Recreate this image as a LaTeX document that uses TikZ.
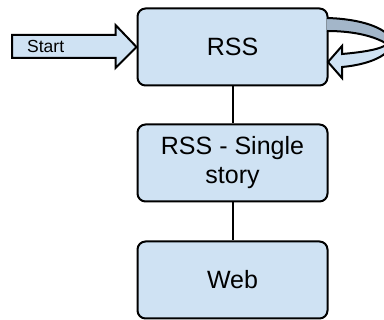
\documentclass[tikz,border=0pt]{standalone}
\usepackage{fontspec}
\setmainfont{Liberation Sans}
\usetikzlibrary{calc}
\begin{document}
\begin{tikzpicture}[x=1pt,y=-1pt,
  box/.style={draw=black,line width=2pt,rounded corners=8pt,fill=boxblue,
    minimum width=190pt,minimum height=77pt,inner sep=0pt,align=center,
    font=\fontsize{25}{30}\selectfont},
  link/.style={draw=black,line width=2pt},
  bigarrow/.style={draw=black,line width=2pt,line join=miter,fill=boxblue}]
\definecolor{boxblue}{HTML}{CFE2F3}
\definecolor{bandgray}{HTML}{A3B6C9}
\useasboundingbox (0,0) rectangle (384,320);
\clip (0,0) rectangle (384,320);
\node[box] (rss) at (232.5,47) {RSS};
\node[box] (single) at (232.5,163) {RSS - Single\\[-1pt]story};
\node[box] (web) at (232.5,280) {Web};
\draw[link] (rss.south) -- (single.north);
\draw[link] (single.south) -- (web.north);
% start arrow
\coordinate (tip) at (rss.west);
\draw[bigarrow] (tip) -- ++(-21,-22) -- ++(0,10) -- (12,35) -- (12,58) -- ($(tip)+(-21,11)$) -- ++(0,10) -- cycle;
\node[anchor=base west,inner sep=0pt,font=\fontsize{17.5}{20}\selectfont] (start) at (27,52.5) {Start};
% self loop
\fill[bandgray] (327,18) .. controls (362,19) and (386,28) .. (392,40) -- (387,44) .. controls (376,37) and (356,31) .. (327,31) -- cycle;
\draw[line width=2pt] (327,18) .. controls (362,19) and (386,28) .. (392,40);
\draw[line width=2pt] (387,44) .. controls (376,37) and (356,31) .. (327,31);
\draw[bigarrow] (392,40) .. controls (394,52) and (375,64) .. (342,67) -- (342,78) -- (328,62) -- (342,46) -- (342,54) .. controls (365,52) and (382,49) .. (387,44);
\end{tikzpicture}
\end{document}
